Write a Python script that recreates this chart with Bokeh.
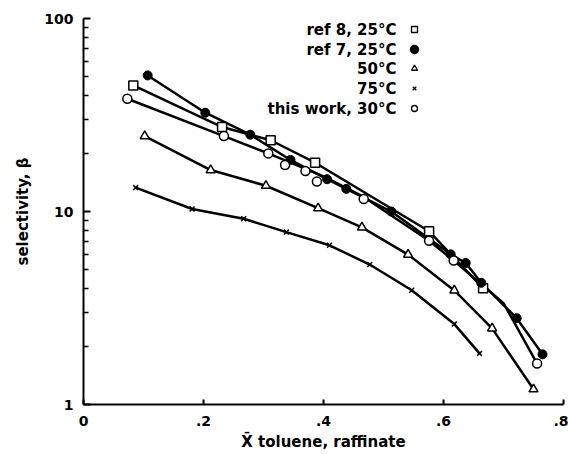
from bokeh.plotting import figure
from bokeh.models import FixedTicker, Label
from bokeh.embed import file_html
from bokeh.resources import INLINE

# ---- data ----
ref8_x = [0.083, 0.231, 0.312, 0.386, 0.576, 0.666]
ref8_y = [45.0, 27.4, 23.4, 17.9, 7.9, 4.0]

ref7_x = [0.107, 0.203, 0.278, 0.345, 0.406, 0.438, 0.513, 0.612, 0.637, 0.663, 0.722, 0.765]
ref7_y = [50.7, 32.5, 25.0, 18.5, 14.7, 13.1, 10.0, 6.0, 5.41, 4.27, 2.8, 1.82]

t50_x = [0.102, 0.212, 0.304, 0.391, 0.464, 0.541, 0.618, 0.681, 0.750]
t50_y = [24.6, 16.4, 13.6, 10.4, 8.27, 5.98, 3.9, 2.48, 1.2]

t75_x = [0.087, 0.181, 0.267, 0.338, 0.410, 0.477, 0.547, 0.618, 0.660]
t75_y = [13.3, 10.3, 9.17, 7.82, 6.68, 5.31, 3.91, 2.61, 1.84]

tw_x = [0.073, 0.234, 0.308, 0.336, 0.370, 0.389, 0.467, 0.576, 0.617, 0.756]
tw_y = [38.4, 24.6, 20.0, 17.4, 16.2, 14.3, 11.6, 7.06, 5.57, 1.63]
# smooth curve drawn through "this work" points
tw_fit_x = [0.073, 0.234, 0.308, 0.400, 0.467, 0.576, 0.617, 0.700, 0.756]
tw_fit_y = [38.4, 24.6, 20.0, 15.2, 11.9, 7.06, 5.57, 3.35, 1.63]

labels = ["ref 8, 25\u00b0C", "ref 7, 25\u00b0C", "50\u00b0C", "75\u00b0C", "this work, 30\u00b0C"]

x_ticks = [0, 0.2, 0.4, 0.6, 0.8]
x_tick_labels = ["0", ".2", ".4", ".6", ".8"]
y_ticks = [1, 10, 100]
y_tick_labels = ["1", "10", "100"]
y_minor = [2, 3, 4, 5, 6, 7, 8, 9, 20, 30, 40, 50, 60, 70, 80, 90]

FONT = "DejaVu Sans"
W, H = 568, 454
BL, BR, BT, BB = 83, 5, 18, 50

p = figure(width=W, height=H, x_range=(0, 0.8), y_range=(1, 100),
           y_axis_type="log", output_backend="svg", toolbar_location=None,
           min_border_left=BL, min_border_right=BR, min_border_top=BT,
           min_border_bottom=BB)
p.styles = {"position": "absolute", "left": "0px", "top": "0px"}
p.outline_line_color = None
p.xgrid.grid_line_color = None
p.ygrid.grid_line_color = None
p.background_fill_color = "white"

for ax in (p.xaxis[0], p.yaxis[0]):
    ax.axis_line_width = 2
    ax.axis_line_color = "black"
    ax.major_tick_line_width = 2
    ax.minor_tick_line_width = 1.5
    ax.major_tick_out = 0
    ax.minor_tick_out = 0
    ax.major_label_text_font = FONT
    ax.major_label_text_font_style = "bold"
    ax.major_label_text_font_size = "14px"
    ax.major_label_text_color = "black"
    ax.axis_label_text_font = FONT
    ax.axis_label_text_font_style = "bold"
    ax.axis_label_text_font_size = "15px"
    ax.axis_label_text_color = "black"

xa = p.xaxis[0]
xa.ticker = FixedTicker(ticks=x_ticks, minor_ticks=[])
xa.major_label_overrides = dict(zip(x_ticks, x_tick_labels))
xa.major_tick_in = 5
xa.major_label_standoff = 11
xa.axis_label = "X\u0304 toluene, raffinate"
xa.axis_label_standoff = 4

ya = p.yaxis[0]
ya.ticker = FixedTicker(ticks=y_ticks, minor_ticks=y_minor)
ya.major_label_overrides = dict(zip(y_ticks, y_tick_labels))
ya.major_tick_in = 7
ya.minor_tick_in = 5
ya.major_label_standoff = 10
ya.axis_label = "selectivity, \u03b2"
ya.axis_label_standoff = 9

LW = 2.5
p.line(ref8_x, ref8_y, line_color="black", line_width=LW)
p.line(ref7_x, ref7_y, line_color="black", line_width=LW)
p.line(t50_x, t50_y, line_color="black", line_width=LW)
p.line(t75_x, t75_y, line_color="black", line_width=LW)
p.line(tw_fit_x, tw_fit_y, line_color="black", line_width=LW)

styles = [
    dict(marker="square", size=9, line_color="black", fill_color="white", line_width=1.5),
    dict(marker="circle", size=9, line_color="black", fill_color="black"),
    dict(marker="triangle", size=9, line_color="black", fill_color="white", line_width=1.5),
    dict(marker="x", size=7, line_color="black", line_width=1.5),
    dict(marker="circle", size=9, line_color="black", fill_color="white", line_width=1.5),
]
series = [(ref8_x, ref8_y), (ref7_x, ref7_y), (t50_x, t50_y), (t75_x, t75_y), (tw_x, tw_y)]
for (sx, sy), st in zip(series, styles):
    p.scatter(sx, sy, **st)

# ---- legend (text left, symbol right) placed by page pixels ----
frame_w = W - BL - BR
frame_h = H - BT - BB
def px2x(px):
    return (px - BL) / frame_w * 0.8
def px2y(py):
    return 10 ** (2 * (BT + frame_h - py) / frame_h)

leg_rows = [29, 49, 68, 88, 108]
leg_sym_x = px2x(414)
leg_txt_x = px2x(396)
leg_sizes = [6, 8, 6, 5, 6]
for lab, st, row, sz in zip(labels, styles, leg_rows, leg_sizes):
    st2 = dict(st)
    st2["size"] = sz
    st2["line_width"] = 1.3
    p.scatter([leg_sym_x], [px2y(row)], **st2)
    p.add_layout(Label(x=leg_txt_x, y=px2y(row), text=lab, text_align="right",
                       text_baseline="middle", text_font=FONT,
                       text_font_style="bold", text_font_size="15px",
                       text_color="black"))

open("out.html", "w").write(file_html(p, INLINE))
